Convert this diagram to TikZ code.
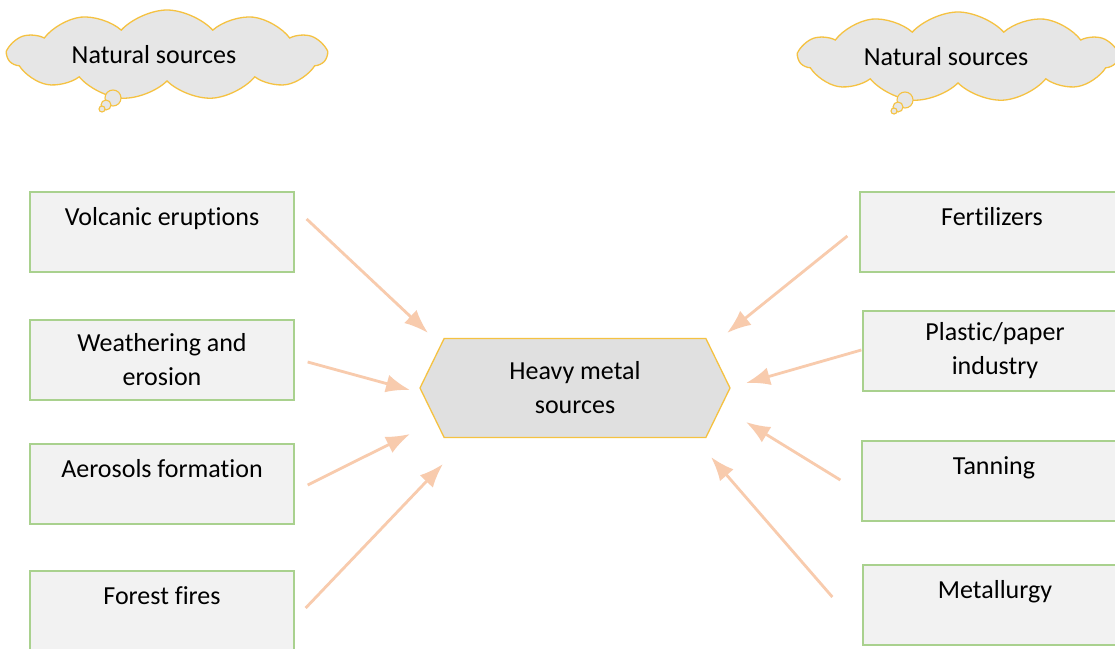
\documentclass[tikz,border=0pt]{standalone}
\usepackage{fontspec}
\setmainfont{Carlito}[Ligatures=NoCommon]
\usetikzlibrary{positioning}
\usetikzlibrary{shapes.symbols}
\usetikzlibrary{arrows.meta}

\definecolor{boxgreen}{HTML}{A9D18E}
\definecolor{boxfill}{HTML}{F2F2F2}
\definecolor{hexgold}{HTML}{F5C242}
\definecolor{hexfill}{HTML}{E0E0E0}
\definecolor{cloudfill}{HTML}{E6E6E6}
\definecolor{arrowpeach}{HTML}{F8CBAD}

\begin{document}
\begin{tikzpicture}[x=1pt, y=-1pt,
                font=\fontsize{26}{34}\selectfont,
                sourcebox/.style={rectangle, draw=boxgreen, fill=boxfill, line width=1.3pt, minimum width=264pt, minimum height=80pt, align=center},
                onelinebox/.style={sourcebox, text height=17pt, text depth=31pt},
                hexnode/.style={signal, signal to=west and east, signal pointer angle=128, draw=hexgold, fill=hexfill, line width=1.3pt, minimum width=310pt, minimum height=99pt, align=center},
                cloudnode/.style={cloud, cloud puffs=11, cloud puff arc=95, aspect=3.4, cloud ignores aspect, draw=hexgold, fill=cloudfill, line width=1.3pt, minimum width=318pt, minimum height=90pt},
                bubble/.style={circle, draw=hexgold, fill=cloudfill, line width=1.1pt, inner sep=0pt},
                sourcearrow/.style={-{Latex[length=24pt, width=18pt]}, draw=arrowpeach, line width=2.8pt},
            ]
            \useasboundingbox (0,0) rectangle (1115,648);
            \fill[white] (0,0) rectangle (1115,648);

            % Nodes
            \node[hexnode]          (hm)        at (575,388)        {Heavy metal\\sources};

            \node[cloudnode]        (cloud_left)     at (167,55)      {\hspace*{-26pt}Natural sources};
            \node[bubble, minimum size=16pt]  (bubble_left_1)   at (113,98)   {};
            \node[bubble, minimum size=10pt]  (bubble_left_2)   at (106,105)  {};
            \node[bubble, minimum size=6pt]   (bubble_left_3)   at (102,109)  {};

            \node[cloudnode]        (cloud_right)    at (958,57)      {\hspace*{-24pt}Natural sources};
            \node[bubble, minimum size=16pt]  (bubble_right_1)  at (905,100)  {};
            \node[bubble, minimum size=10pt]  (bubble_right_2)  at (898,107)  {};
            \node[bubble, minimum size=6pt]   (bubble_right_3)  at (894,111)  {};

            \node[onelinebox]       (volcanic)      at (162,232)    {Volcanic eruptions};
            \node[sourcebox]        (weathering)    at (162,360)    {Weathering and\\erosion};
            \node[onelinebox]       (aerosols)      at (162,484)    {Aerosols formation};
            \node[onelinebox]       (fires)         at (162,611)    {Forest fires};

            \node[onelinebox]       (fertilizers)   at (992,232)    {Fertilizers};
            \node[sourcebox]        (plastic)       at (995,351)    {Plastic/paper\\industry};
            \node[onelinebox]       (tanning)       at (994,481)    {Tanning};
            \node[onelinebox]       (metallurgy)    at (995,605)    {Metallurgy};

            \coordinate (in_volcanic)    at ([shift={(-147,-55)}]hm.center);
            \coordinate (in_weathering)  at ([shift={(-165,2)}]hm.center);
            \coordinate (in_aerosols)    at ([shift={(-165,46)}]hm.center);
            \coordinate (in_fires)       at ([shift={(-132,76)}]hm.center);
            \coordinate (in_fertilizers) at ([shift={(152,-55)}]hm.center);
            \coordinate (in_plastic)     at ([shift={(171,-5)}]hm.center);
            \coordinate (in_tanning)     at ([shift={(171,34)}]hm.center);
            \coordinate (in_metallurgy)  at ([shift={(136,69)}]hm.center);

            %Lines
            \draw[sourcearrow] ([shift={(12,-13)}]volcanic.east) -- (in_volcanic);
            \draw[sourcearrow] ([shift={(13,2)}]weathering.east) -- (in_weathering);
            \draw[sourcearrow] ([shift={(13,1)}]aerosols.east) -- (in_aerosols);
            \draw[sourcearrow] ([shift={(11,-3)}]fires.east) -- (in_fires);

            \draw[sourcearrow] ([shift={(-12,4)}]fertilizers.west) -- (in_fertilizers);
            \draw[sourcearrow] ([shift={(-1,-1)}]plastic.west) -- (in_plastic);
            \draw[sourcearrow] ([shift={(-21,-1)}]tanning.west) -- (in_tanning);
            \draw[sourcearrow] ([shift={(-30,-8)}]metallurgy.west) -- (in_metallurgy);
        \end{tikzpicture}
\end{document}
